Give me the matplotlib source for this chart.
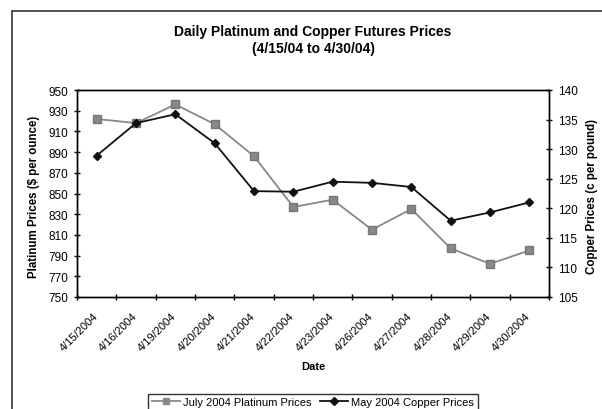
import matplotlib.pyplot as plt
from matplotlib.lines import Line2D
from matplotlib.patches import Rectangle
from matplotlib.ticker import FixedLocator
from matplotlib.transforms import ScaledTranslation

plt.rcParams['font.family'] = ['Liberation Sans', 'DejaVu Sans']

dates = ['4/15/2004', '4/16/2004', '4/19/2004', '4/20/2004', '4/21/2004', '4/22/2004',
         '4/23/2004', '4/26/2004', '4/27/2004', '4/28/2004', '4/29/2004', '4/30/2004']
platinum = [922, 918, 936, 917, 886, 837, 844, 815, 835, 797, 782, 795]
copper = [128.9, 134.4, 135.9, 131.0, 122.9, 122.8, 124.5, 124.3, 123.6, 117.9, 119.3, 121.0]

fig = plt.figure(figsize=(6.02, 4.10), dpi=100)
ax = fig.add_axes([77 / 602, 1 - 298 / 410, 472 / 602, 207 / 410])
ax2 = ax.twinx()

# outer chart frame (cut off at right and bottom like the original)
fig.patches.append(Rectangle((12 / 602, -0.1), 1.2, (1 - 12 / 410) + 0.1,
                             transform=fig.transFigure, fill=False,
                             edgecolor='#333333', linewidth=1.2))

x = list(range(len(dates)))
ax.plot(x, platinum, color='#888888', marker='s', markersize=5.5, linewidth=1.3,
        markeredgecolor='#777777', zorder=3)
ax2.plot(x, copper, color='#111111', marker='D', markersize=4.5, linewidth=1.3, zorder=3)

ax.set_xlim(-0.5, len(dates) - 0.5)
ax.set_ylim(750, 950)
ax.set_yticks(range(750, 951, 20))
ax2.set_ylim(105, 140)
ax2.set_yticks(range(105, 141, 5))

ax.set_xticks(x)
ax.set_xticklabels(dates, rotation=45, ha='right', va='top', rotation_mode='anchor', fontsize=8)
ax.tick_params(axis='x', which='major', length=0, pad=0)
shift = ScaledTranslation(-4 / 100, -13 / 100, fig.dpi_scale_trans)
for lbl in ax.get_xticklabels():
    lbl.set_transform(lbl.get_transform() + shift)
ax.xaxis.set_minor_locator(FixedLocator([i - 0.5 for i in range(len(dates) + 1)]))
ax.tick_params(axis='x', which='minor', length=5, direction='inout', width=1)
ax.tick_params(axis='y', labelsize=8.5, length=5, direction='inout', width=1, pad=4)
ax2.tick_params(axis='y', labelsize=8.5, length=5, direction='inout', width=1, pad=4)

for a in (ax, ax2):
    for s in a.spines.values():
        s.set_linewidth(1)
        s.set_color('black')

fig.text(34 / 602, 1 - 197 / 410, 'Platinum Prices ($ per ounce)', rotation=90,
         fontsize=8.3, fontweight='bold', ha='center', va='center')
fig.text(592 / 602, 1 - 196 / 410, 'Copper Prices (c per pound)', rotation=90,
         fontsize=8.3, fontweight='bold', ha='center', va='center')
fig.text(313 / 602, 1 - 367 / 410, 'Date', fontsize=8, fontweight='bold', ha='center', va='center')

fig.text(313 / 602, 1 - 32 / 410, 'Daily Platinum and Copper Futures Prices',
         fontsize=10, fontweight='bold', ha='center', va='center')
fig.text(313 / 602, 1 - 49 / 410, '(4/15/04 to 4/30/04)',
         fontsize=10, fontweight='bold', ha='center', va='center')

handles = [Line2D([], [], color='#888888', marker='s', markersize=4.5, linewidth=1.3),
           Line2D([], [], color='#111111', marker='D', markersize=4, linewidth=1.3)]
leg = fig.legend(handles, ['July 2004 Platinum Prices', 'May 2004 Copper Prices'],
                 loc='center', bbox_to_anchor=(313 / 602, 1 - 403 / 410), ncol=2,
                 fontsize=8, frameon=True, fancybox=False, edgecolor='black',
                 handlelength=2.5, handletextpad=0.3, columnspacing=0.8,
                 borderpad=0.3)
leg.get_frame().set_linewidth(1)

fig.savefig('out.png', dpi=100, facecolor='white')
